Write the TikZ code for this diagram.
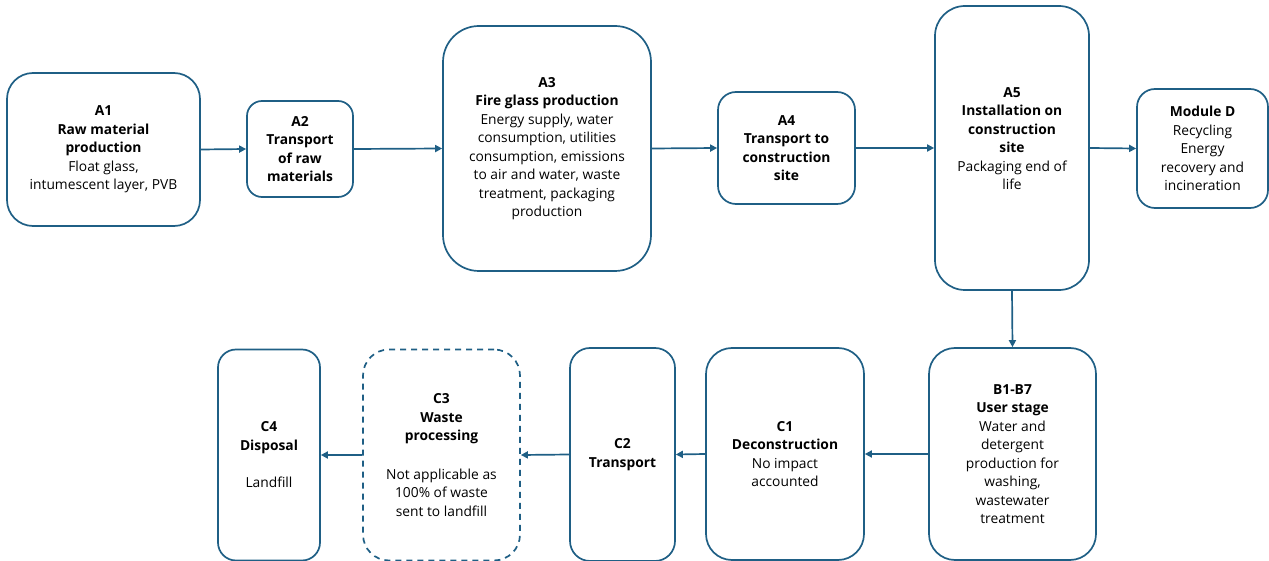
\documentclass[tikz,border=0pt]{standalone}
\usepackage{fontspec}
\setmainfont{Open Sans}
\usetikzlibrary{arrows.meta}
\definecolor{teal}{HTML}{1F5F85}
\tikzset{
  box/.style={draw=teal, line width=1.7pt, align=center, inner sep=0pt,
    font=\fontsize{13.8}{18.5}\selectfont, text=black},
  conn/.style={draw=teal, line width=1.7pt, -{Triangle[length=7pt,width=7pt]}},
}
\begin{document}
\begin{tikzpicture}[x=1pt,y=-1pt]
\useasboundingbox (0,0) rectangle (1269,561);
\node[box, minimum width=193pt, minimum height=153pt, rounded corners=26pt] (A1) at (103.5,149.5)
  {\textbf{A1}\\\textbf{Raw material}\\\textbf{production}\\Float glass,\\intumescent layer, PVB};
\node[box, minimum width=106pt, minimum height=96pt, rounded corners=15pt] (A2) at (300,149)
  {\textbf{A2}\\\textbf{Transport}\\\textbf{of raw}\\\textbf{materials}};
\node[box, minimum width=208pt, minimum height=245pt, rounded corners=36pt] (A3) at (547,148.5)
  {\textbf{A3}\\\textbf{Fire glass production}\\Energy supply, water\\consumption, utilities\\consumption, emissions\\to air and water, waste\\treatment, packaging\\production};
\node[box, minimum width=137pt, minimum height=112pt, rounded corners=18pt] (A4) at (786.5,148)
  {\textbf{A4}\\\textbf{Transport to}\\\textbf{construction}\\\textbf{site}};
\node[box, minimum width=154pt, minimum height=284pt, rounded corners=30pt] (A5) at (1012,148)
  {\textbf{A5}\\\textbf{Installation on}\\\textbf{construction}\\\textbf{site}\\Packaging end of\\life\\\mbox{}};
\node[box, minimum width=131pt, minimum height=119pt, rounded corners=18pt] (D) at (1202.5,148.5)
  {\textbf{Module D}\\Recycling\\Energy\\recovery and\\incineration};
\node[box, minimum width=167pt, minimum height=212pt, rounded corners=26pt] (B) at (1012.5,454)
  {\textbf{B1-B7}\\\textbf{User stage}\\Water and\\detergent\\production for\\washing,\\wastewater\\treatment};
\node[box, minimum width=158pt, minimum height=212pt, rounded corners=26pt] (C1) at (785,454)
  {\textbf{C1}\\\textbf{Deconstruction}\\No impact\\accounted};
\node[box, minimum width=105pt, minimum height=213pt, rounded corners=20pt] (C2) at (622.5,454.5)
  {\textbf{C2}\\\textbf{Transport}};
\node[box, dash pattern=on 6pt off 5pt, minimum width=157pt, minimum height=211pt, rounded corners=26pt] (C3) at (441.5,455)
  {\textbf{C3}\\\textbf{Waste}\\\textbf{processing}\\[20pt]Not applicable as\\100\% of waste\\sent to landfill};
\node[box, minimum width=102pt, minimum height=211pt, rounded corners=18pt] (C4) at (269,455)
  {\textbf{C4}\\\textbf{Disposal}\\[19pt]Landfill};
\draw[conn] (A1.east) -- (A2.west);
\draw[conn] (A2.east) -- (A3.west);
\draw[conn] (A3.east) -- (A4.west);
\draw[conn] (A4.east) -- (A5.west);
\draw[conn] (A5.east) -- (D.west);
\draw[conn] (A5.south) -- (B.north);
\draw[conn] (B.west) -- (C1.east);
\draw[conn] (C1.west) -- (C2.east);
\draw[conn] (C2.west) -- (C3.east);
\draw[conn] (C3.west) -- (C4.east);
\end{tikzpicture}
\end{document}
